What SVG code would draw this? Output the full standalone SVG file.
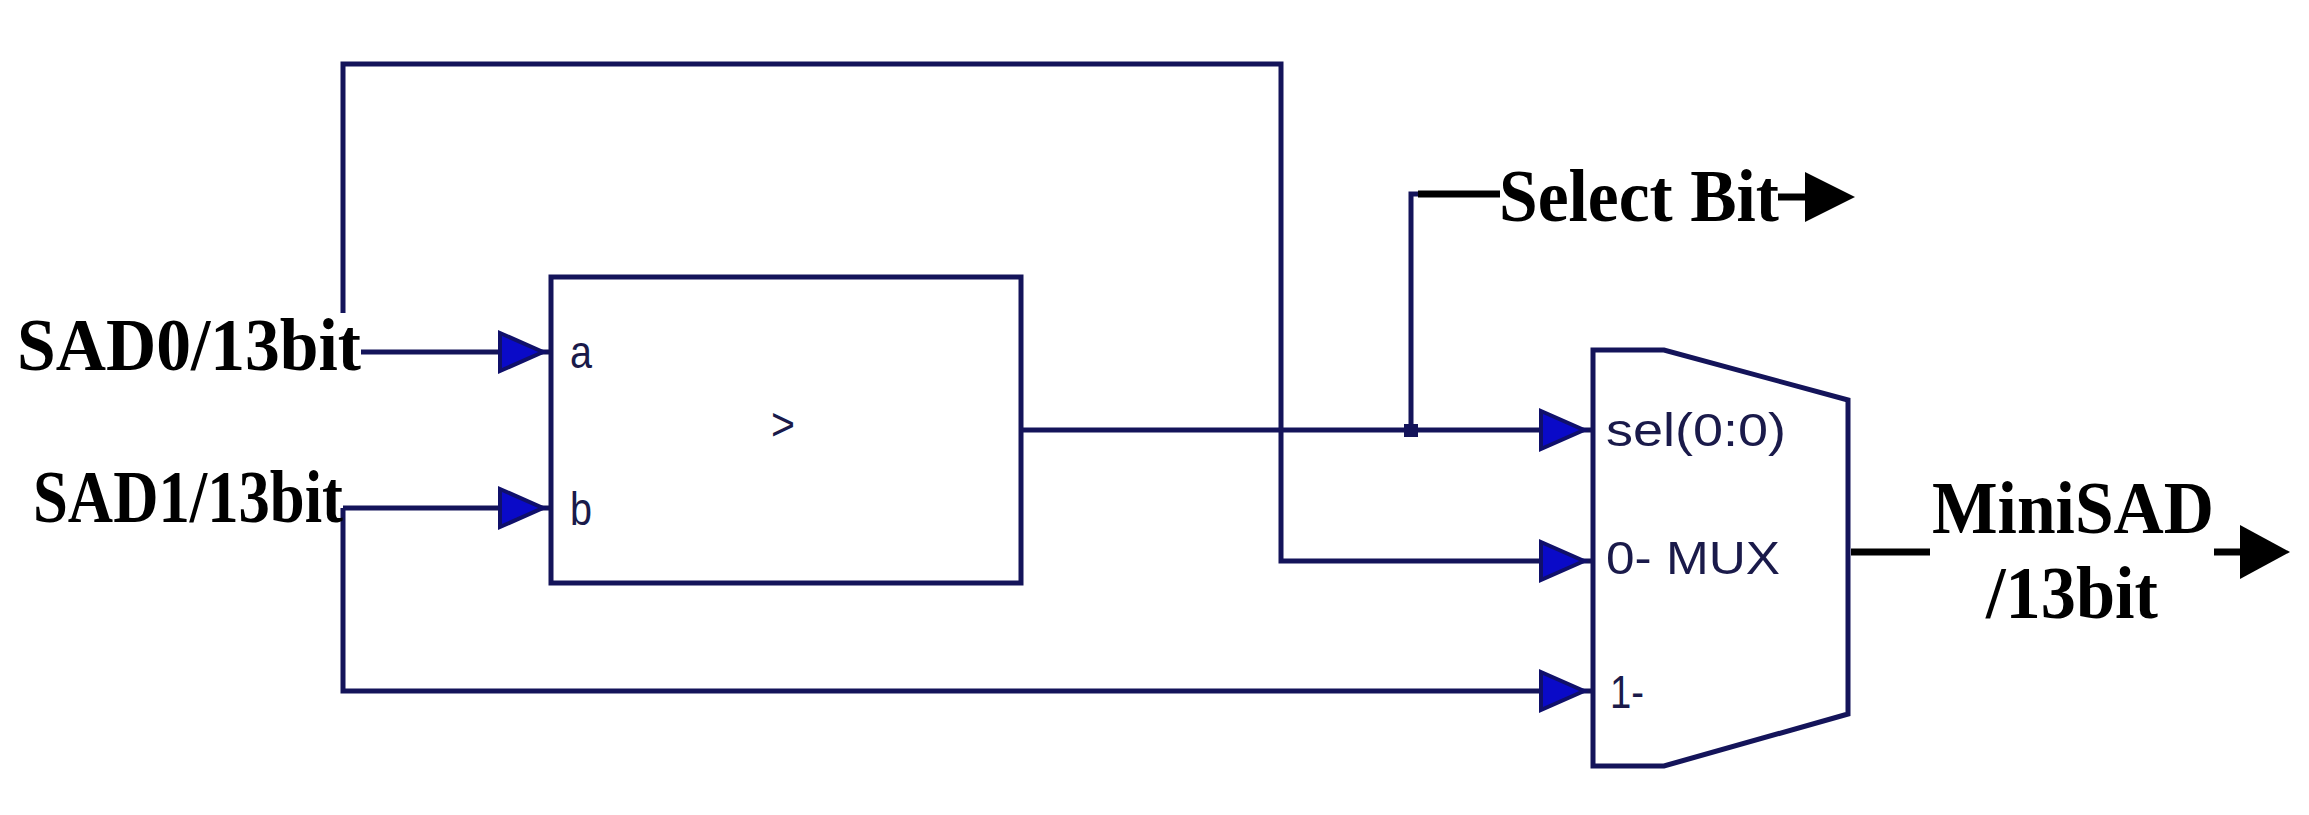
<svg xmlns="http://www.w3.org/2000/svg" width="2309" height="815" viewBox="0 0 2309 815">
<style>
.w{fill:none;stroke:#14145a;stroke-width:5}
.k{fill:none;stroke:#000;stroke-width:7}
.t{font-family:"Liberation Serif","Times New Roman",serif;font-weight:bold;font-size:75px;fill:#000}
.p{font-family:"Liberation Sans",Arial,sans-serif;font-size:46px;fill:#1a1a4a}
.a{fill:#0a0ac8;stroke:#10106a;stroke-width:4}
.b{fill:#000}
</style>
<rect width="2309" height="815" fill="#fff"/>
<g id="connectors">
<path class="w" d="M343 313V64H1281V561H1593"/>
<path class="w" d="M361 352H551"/>
<path class="w" d="M343 508H551"/>
<path class="w" d="M343 508V691H1593"/>
<path class="w" d="M1021 430H1593"/>
<path class="w" d="M1411 430V194H1425"/>
<path class="k" d="M1418 194H1500"/>
<path class="k" d="M1778 197H1815"/>
<path class="k" d="M1851 552H1930"/>
<path class="k" d="M2214 552H2250"/>
<rect x="1404" y="424" width="14" height="13" fill="#14145a"/>
<polygon class="a" points="500,333 543,352 500,371"/>
<polygon class="a" points="500,489 543,508 500,527"/>
<polygon class="a" points="1541,411 1584,430 1541,449"/>
<polygon class="a" points="1541,542 1584,561 1541,580"/>
<polygon class="a" points="1541,672 1584,691 1541,710"/>
<polygon class="b" points="1805,172 1855,197 1805,222"/>
<polygon class="b" points="2240,525 2290,552 2240,579"/>
</g>
<g id="comparator">
<rect class="w" x="551" y="277" width="470" height="306"/>
<text class="p" x="570" y="368" textLength="22" lengthAdjust="spacingAndGlyphs">a</text>
<text class="p" x="570" y="525" textLength="22" lengthAdjust="spacingAndGlyphs">b</text>
<text class="p" x="771" y="440" textLength="24" lengthAdjust="spacingAndGlyphs">&gt;</text>
</g>
<g id="mux">
<path class="w" d="M1593 350H1664L1848 400V714L1664 766H1593Z"/>
<text class="p" x="1606" y="446" textLength="180" lengthAdjust="spacingAndGlyphs">sel(0:0)</text>
<text class="p" x="1606" y="574" textLength="174" lengthAdjust="spacingAndGlyphs">0- MUX</text>
<text class="p" x="1610" y="708" textLength="34" lengthAdjust="spacingAndGlyphs">1-</text>
</g>
<g id="labels">
<text class="t" x="17" y="370" textLength="344" lengthAdjust="spacingAndGlyphs">SAD0/13bit</text>
<text class="t" x="33" y="522" textLength="310" lengthAdjust="spacingAndGlyphs">SAD1/13bit</text>
<text class="t" x="1499" y="221" textLength="280" lengthAdjust="spacingAndGlyphs">Select Bit</text>
<text class="t" x="1932" y="533" textLength="282" lengthAdjust="spacingAndGlyphs">MiniSAD</text>
<text class="t" x="1986" y="618" textLength="172" lengthAdjust="spacingAndGlyphs">/13bit</text>
</g>
</svg>
